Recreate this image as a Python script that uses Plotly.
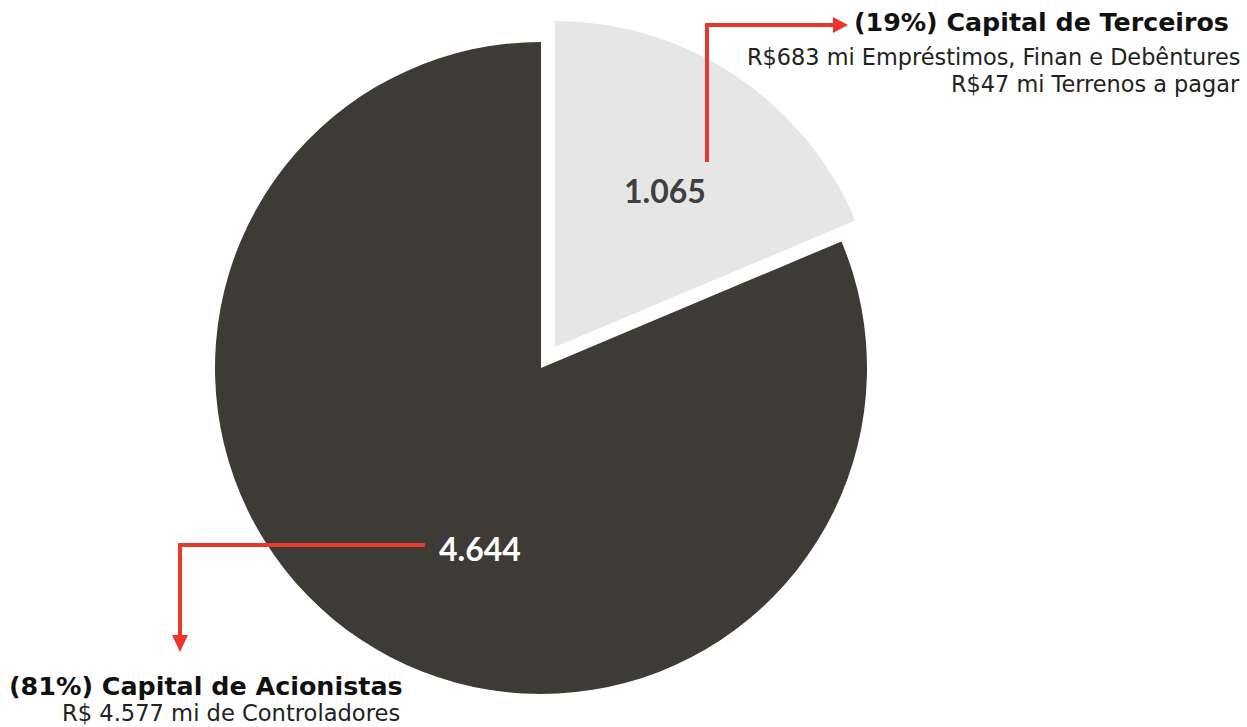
import plotly.graph_objects as go

W, H = 1247, 727

labels = ["Capital de Terceiros", "Capital de Acionistas"]
values = [1065, 4644]
colors = ["#e6e6e6", "#3e3a35"]
pulls = [0.077, 0]
value_text_colors = ["#404040", "#ffffff"]

title_lines = ["(19%) Capital de Terceiros", "(81%) Capital de Acionistas"]
detail_lines = [
    ["R$683 mi Empréstimos, Finan e Debêntures", "R$47 mi Terrenos a pagar"],
    ["R$ 4.577 mi de Controladores"],
]

FONT = "DejaVu Sans"
NUM_FONT = "Lato"
RED = "#e9382b"


def px(x):
    return x / W


def py(y):
    return 1 - y / H


def fmt(v):
    return f"{v:,}".replace(",", ".")


fig = go.Figure()
cx, cy, r = 541, 368, 326
half = r * (1 + max(pulls))
fig.add_trace(go.Pie(
    labels=labels, values=values, sort=False, direction="clockwise", rotation=0,
    pull=pulls, marker=dict(colors=colors, line=dict(width=0)),
    textinfo="none", hoverinfo="skip", showlegend=False,
    domain=dict(x=[px(cx - half), px(cx + half)], y=[py(cy + half), py(cy - half)]),
))

annotations = []
# value labels
val_pos = [(665, 190), (480, 548)]
for v, (x, y), c in zip(values, val_pos, value_text_colors):
    annotations.append(dict(x=px(x), y=py(y), xref="paper", yref="paper", text=f"<b>{fmt(v)}</b>",
                            showarrow=False, font=dict(family=NUM_FONT, size=32, color=c),
                            xanchor="center", yanchor="middle"))

# top-right description
annotations.append(dict(x=px(1231), y=py(22), xref="paper", yref="paper",
                        text=f"<b>{title_lines[0]}</b>", showarrow=False,
                        font=dict(family=FONT, size=25.3, color="#111111"),
                        xanchor="right", yanchor="middle"))
for i, line in enumerate(detail_lines[0]):
    annotations.append(dict(x=px(1242), y=py(57 + 27 * i), xref="paper", yref="paper",
                            text=line, showarrow=False,
                            font=dict(family=FONT, size=22.4, color="#222222"),
                            xanchor="right", yanchor="middle"))
# bottom-left description
annotations.append(dict(x=px(405), y=py(686), xref="paper", yref="paper",
                        text=f"<b>{title_lines[1]}</b>", showarrow=False,
                        font=dict(family=FONT, size=25.4, color="#111111"),
                        xanchor="right", yanchor="middle"))
for i, line in enumerate(detail_lines[1]):
    annotations.append(dict(x=px(402), y=py(713 + 27 * i), xref="paper", yref="paper",
                            text=line, showarrow=False,
                            font=dict(family=FONT, size=22.6, color="#222222"),
                            xanchor="right", yanchor="middle"))

shapes = []


def poly(points, width=4):
    d = "M " + " L ".join(f"{px(x)},{py(y)}" for x, y in points)
    shapes.append(dict(type="path", path=d, xref="paper", yref="paper",
                       line=dict(color=RED, width=width), layer="above"))


def tri(points):
    d = "M " + " L ".join(f"{px(x)},{py(y)}" for x, y in points) + " Z"
    shapes.append(dict(type="path", path=d, xref="paper", yref="paper",
                       line=dict(color=RED, width=0), fillcolor=RED, layer="above"))


# top arrow
poly([(707, 162), (707, 25), (834, 25)])
tri([(833, 17), (848, 25), (833, 33)])
# bottom arrow
poly([(425, 545), (180, 545), (180, 636)])
tri([(172, 635), (180, 652), (188, 635)])

fig.update_layout(
    width=W, height=H, margin=dict(l=0, r=0, t=0, b=0),
    paper_bgcolor="white", plot_bgcolor="white",
    annotations=annotations, shapes=shapes,
)

fig.write_html("out.html")
